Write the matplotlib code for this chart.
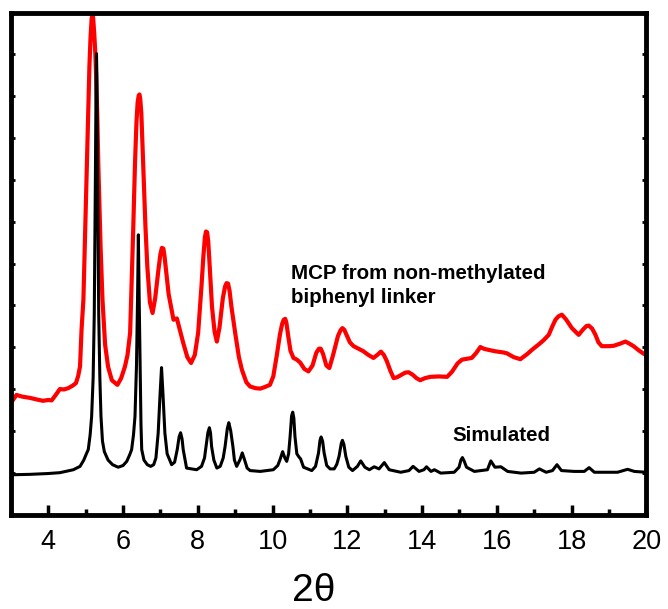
import matplotlib
matplotlib.use("Agg")
import matplotlib.pyplot as plt
import numpy as np

plt.rcParams['font.family'] = ['Liberation Sans', 'DejaVu Sans']

# Experimental pattern (red): MCP from non-methylated biphenyl linker
red_x = [3.0, 3.15, 3.3, 3.51, 3.7, 3.86, 4.0, 4.09, 4.2, 4.31, 4.42, 4.53, 4.65, 4.74, 4.80, 4.85,
         4.89, 4.94, 5.03, 5.07, 5.10, 5.13, 5.16, 5.18, 5.20, 5.23, 5.26, 5.28, 5.31, 5.34, 5.40,
         5.45, 5.52, 5.60, 5.7, 5.85, 5.95,
         6.05, 6.12, 6.19, 6.27, 6.32, 6.36, 6.39, 6.42, 6.44, 6.46, 6.49, 6.51, 6.54, 6.60, 6.65,
         6.72, 6.79, 6.86, 6.95, 7.00, 7.04, 7.08, 7.11,
         7.14, 7.22, 7.35, 7.44, 7.52, 7.61, 7.72, 7.82, 7.92, 8.01, 8.10, 8.15, 8.19, 8.22, 8.25,
         8.28, 8.31, 8.38,
         8.45, 8.51, 8.58, 8.67, 8.73, 8.77, 8.81, 8.85, 8.90, 9.0, 9.10, 9.18, 9.30, 9.40, 9.55,
         9.67, 9.80,
         9.93, 10.02, 10.11, 10.20, 10.26, 10.30, 10.34, 10.37, 10.42, 10.48, 10.56, 10.65, 10.74,
         10.85, 10.96,
         11.07, 11.17, 11.24, 11.29, 11.35, 11.44, 11.52, 11.62, 11.75, 11.82, 11.87, 11.92, 11.98,
         12.07, 12.17,
         12.30, 12.43, 12.55, 12.70, 12.80, 12.90, 12.98, 13.06, 13.15, 13.24, 13.33, 13.41, 13.55,
         13.64, 13.75, 13.85, 13.95, 14.08, 14.22, 14.45, 14.67, 14.80, 14.95, 15.07, 15.20, 15.33,
         15.45, 15.56, 15.65, 15.74, 15.95, 16.18, 16.27, 16.45, 16.63, 16.81, 16.95, 17.12, 17.25,
         17.39, 17.48, 17.57, 17.65, 17.74, 17.85, 18.01, 18.19, 18.30, 18.40, 18.46, 18.55, 18.64,
         18.72, 18.81, 19.0, 19.13, 19.30, 19.44, 19.55, 19.66, 19.80, 19.93, 20.0]
red_y = [2.71, 2.90, 2.86, 2.83, 2.79, 2.76, 2.78, 2.77, 2.9, 3.04, 3.03, 3.06, 3.12, 3.18, 3.35, 3.58,
         4.45, 5.17, 8.33, 9.7, 10.7, 11.4, 11.85, 11.95, 11.88, 11.5, 11.0, 10.5, 9.6, 8.33, 6.4,
         5.17, 4.1, 3.57, 3.25, 3.14, 3.3,
         3.57, 3.85, 4.38, 6.76, 8.4, 9.4, 9.85, 10.03, 10.05, 9.95, 9.6, 9.1, 8.33, 6.9, 5.95,
         5.1, 4.85, 5.2, 5.9, 6.25, 6.40, 6.38, 6.2,
         5.95, 5.3, 4.69, 4.72, 4.45, 4.14, 3.8, 3.66, 3.85, 4.38, 5.5, 6.2, 6.65, 6.79, 6.77,
         6.55, 6.1, 5.0,
         4.4, 4.17, 4.5, 5.2, 5.48, 5.56, 5.55, 5.38, 5.0, 4.38, 3.8, 3.5, 3.2, 3.10, 3.06,
         3.05, 3.09,
         3.14, 3.34, 3.82, 4.35, 4.6, 4.69, 4.71, 4.62, 4.3, 3.95, 3.78, 3.74, 3.67,
         3.52, 3.46,
         3.6, 3.9, 4.0, 4.0, 3.88, 3.6, 3.54, 3.85, 4.3, 4.44, 4.49, 4.45, 4.33,
         4.15, 4.06,
         4.0, 3.94, 3.86, 3.78, 3.85, 3.93, 3.85, 3.70, 3.48, 3.30, 3.32, 3.36, 3.43,
         3.44, 3.38, 3.30, 3.25, 3.30, 3.33, 3.34, 3.33, 3.45, 3.65, 3.74, 3.76, 3.78,
         3.9, 4.04, 4.0, 3.98, 3.94, 3.91, 3.89, 3.80, 3.75, 3.87, 3.98, 4.10, 4.2,
         4.33, 4.52, 4.69, 4.77, 4.81, 4.70, 4.49, 4.33, 4.45, 4.54, 4.55, 4.48, 4.33,
         4.15, 4.06, 4.06, 4.07, 4.12, 4.17, 4.12, 4.06, 3.96, 3.88, 3.86]

# Simulated pattern (black)
sim_x = [3.0, 3.5, 4.0, 4.31, 4.67, 4.85, 4.95, 5.02, 5.07, 5.12, 5.16, 5.20, 5.23, 5.26, 5.28, 5.29,
         5.30, 5.32, 5.35, 5.38, 5.41, 5.45, 5.50, 5.60, 5.72, 5.87, 6.0, 6.10, 6.18, 6.23, 6.28,
         6.32, 6.36, 6.39, 6.41, 6.43, 6.46, 6.48, 6.50, 6.56, 6.65, 6.74, 6.82, 6.88, 6.94, 6.99,
         7.03, 7.07, 7.12, 7.18, 7.30, 7.38, 7.45, 7.50, 7.54, 7.58, 7.61, 7.70, 7.97, 8.10, 8.18,
         8.22, 8.27, 8.31, 8.34, 8.37, 8.43, 8.51, 8.60, 8.68, 8.73, 8.79, 8.83, 8.88, 8.94, 8.98,
         9.04, 9.13, 9.19, 9.25, 9.32, 9.40, 9.67, 10.02, 10.14, 10.20, 10.27, 10.33, 10.38, 10.43,
         10.47, 10.51, 10.54, 10.57, 10.60, 10.65, 10.71, 10.75, 10.83, 11.05, 11.15, 11.23, 11.27,
         11.30, 11.34, 11.38, 11.45, 11.54, 11.65, 11.72, 11.78, 11.84, 11.87, 11.91, 11.96, 12.04,
         12.14, 12.27, 12.36, 12.47, 12.59, 12.72, 12.85, 12.99, 13.12, 13.43, 13.65, 13.76, 13.92,
         14.05, 14.12, 14.24, 14.33, 14.50, 14.86, 14.99, 15.04, 15.08, 15.13, 15.19, 15.40, 15.75,
         15.84, 15.95, 16.11, 16.29, 16.65, 17.0, 17.14, 17.32, 17.49, 17.61, 17.73, 18.07, 18.34,
         18.47, 18.61, 19.23, 19.5, 19.68, 20.0]
sim_y = [1.0, 1.01, 1.03, 1.05, 1.12, 1.2, 1.35, 1.5, 1.6, 1.95, 2.39, 3.3, 4.8, 8.0, 10.5, 11.02,
         10.5, 8.0, 4.8, 3.3, 2.39, 1.8, 1.55, 1.35, 1.24, 1.18, 1.22, 1.32, 1.48, 1.6, 1.95,
         2.39, 3.6, 5.3, 6.71, 5.3, 3.4, 2.2, 1.6, 1.35, 1.24, 1.2, 1.24, 1.4, 1.99, 2.9,
         3.55, 2.9, 1.99, 1.5, 1.24, 1.3, 1.6, 1.9, 2.0, 1.85, 1.6, 1.16, 1.12, 1.2, 1.4,
         1.67, 2.0, 2.12, 2.0, 1.67, 1.35, 1.16, 1.2, 1.4, 1.67, 2.1, 2.24, 2.05, 1.67, 1.35,
         1.2, 1.36, 1.52, 1.36, 1.16, 1.10, 1.08, 1.12, 1.22, 1.36, 1.55, 1.4, 1.32, 1.5,
         1.91, 2.4, 2.49, 2.35, 1.91, 1.5, 1.42, 1.38, 1.18, 1.10, 1.2, 1.52, 1.82,
         1.9, 1.8, 1.52, 1.22, 1.14, 1.14, 1.25, 1.44, 1.75, 1.82, 1.72, 1.44, 1.18,
         1.10, 1.2, 1.33, 1.18, 1.12, 1.19, 1.14, 1.29, 1.12, 1.06, 1.1, 1.2, 1.08,
         1.12, 1.19, 1.08, 1.12, 1.04, 1.06, 1.18, 1.35, 1.41, 1.32, 1.18, 1.08, 1.12,
         1.33, 1.18, 1.19, 1.08, 1.04, 1.06, 1.14, 1.06, 1.10, 1.24, 1.10, 1.08, 1.08,
         1.17, 1.06, 1.06, 1.13, 1.08, 1.06]

xticks_major = [4, 6, 8, 10, 12, 14, 16, 18, 20]
xticks_minor = [3, 5, 7, 9, 11, 13, 15, 17, 19]
label_red = "MCP from non-methylated\nbiphenyl linker"
label_sim = "Simulated"
xlabel = "2θ"

fig = plt.figure(figsize=(6.68, 6.09), dpi=100)
ax = fig.add_axes([0.01632, 0.15484, 0.96751 - 0.01632, 0.97947 - 0.15484])

ax.plot(sim_x, sim_y, color='black', lw=2.2, solid_joinstyle='round', zorder=3)
ax.plot(red_x, red_y, color='#ff0000', lw=3.0, solid_joinstyle='round', zorder=2)

ax.set_xlim(3, 20)
ax.set_ylim(0.05, 12.0)

for s in ax.spines.values():
    s.set_linewidth(3.5)

ax.set_xticks(xticks_major)
ax.set_xticks(xticks_minor, minor=True)
ax.set_xticklabels([str(t) for t in xticks_major])
ax.set_yticks(np.linspace(0.05, 12.0, 13))
ax.set_yticklabels([])

ax.tick_params(axis='x', which='major', direction='in', length=7, width=2.5,
               labelsize=19.5, pad=10, top=False)
ax.tick_params(axis='x', which='minor', direction='in', length=4, width=2.5, top=False)
ax.tick_params(axis='y', which='major', direction='in', length=3, width=2, right=True)
ax.set_facecolor('white')

ax.text(10.5, 5.51, label_red, fontsize=14.8, fontweight='bold', ha='left', va='center',
        linespacing=1.33)
ax.text(14.81, 1.93, label_sim, fontsize=14.8, fontweight='bold', ha='left', va='center')

fig.text(314 / 668, 1 - 591 / 609, xlabel, fontsize=28, ha='center', va='center')

fig.savefig("out.png", dpi=100)
